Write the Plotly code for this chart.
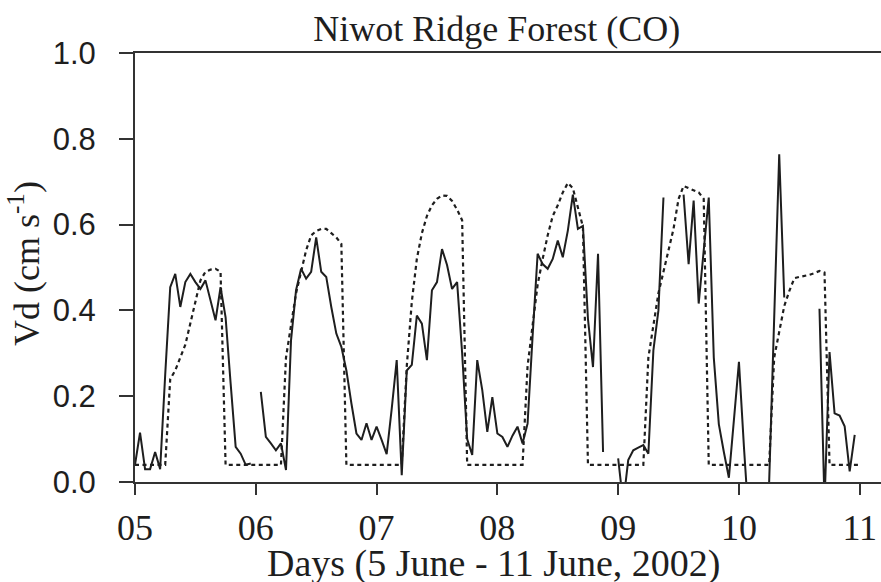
import plotly.graph_objects as go

# Hourly time axis (hours since 00:00 on 5 June 2002)
obs_hours = list(range(144))
model_hours = list(range(145))

# Observed deposition velocity (cm/s); None = missing data
obs_vd = [
    # 05
    0.04, 0.115, 0.03, 0.03, 0.07, 0.03, 0.25, 0.454, 0.485, 0.408, 0.466, 0.485,
    0.466, 0.45, 0.47, 0.423, 0.377, 0.454, 0.384, 0.23, 0.082, 0.066, 0.04, 0.043,
    # 06
    None, 0.21, 0.105, 0.09, 0.074, 0.09, 0.028, 0.33, 0.447, 0.497, 0.474, 0.49,
    0.57, 0.49, 0.478, 0.408, 0.346, 0.315, 0.26, 0.183, 0.113, 0.098, 0.137, 0.098,
    # 07
    0.129, 0.098, 0.065, 0.17, 0.284, 0.016, 0.26, 0.273, 0.388, 0.369, 0.284, 0.447,
    0.466, 0.543, 0.506, 0.45, 0.466, 0.30, 0.10, 0.063, 0.284, 0.214, 0.117, 0.198,
    # 08
    0.113, 0.105, 0.082, 0.108, 0.129, 0.09, 0.136, 0.34, 0.532, 0.508, 0.497, 0.52,
    0.563, 0.524, 0.586, 0.67, 0.59, 0.597, 0.38, 0.268, 0.532, 0.07, None, None,
    # 09
    0.055, -0.05, 0.051, 0.074, 0.08, 0.086, 0.066, 0.307, 0.40, 0.663, None, None,
    None, 0.67, 0.508, 0.656, 0.416, 0.54, 0.663, 0.29, 0.135, 0.07, 0.01, 0.145,
    # 10
    0.28, 0.08, -0.1, None, None, None, 0.0, 0.38, 0.764, 0.43, None, None,
    None, None, None, None, 0.404, -0.05, 0.303, 0.16, 0.155, 0.13, 0.025, 0.11,
]

# Modelled deposition velocity (cm/s)
model_vd = [
    # 05
    0.04, 0.04, 0.04, 0.04, 0.04, 0.04, 0.04, 0.24, 0.26, 0.29, 0.32, 0.37,
    0.42, 0.47, 0.49, 0.495, 0.497, 0.49, 0.04, 0.04, 0.04, 0.04, 0.04, 0.04,
    # 06
    0.04, 0.04, 0.04, 0.04, 0.04, 0.04, 0.29, 0.37, 0.44, 0.49, 0.54, 0.575,
    0.585, 0.59, 0.59, 0.58, 0.57, 0.555, 0.04, 0.04, 0.04, 0.04, 0.04, 0.04,
    # 07
    0.04, 0.04, 0.04, 0.04, 0.04, 0.04, 0.27, 0.42, 0.52, 0.58, 0.62, 0.645,
    0.66, 0.668, 0.667, 0.655, 0.635, 0.61, 0.04, 0.04, 0.04, 0.04, 0.04, 0.04,
    # 08
    0.04, 0.04, 0.04, 0.04, 0.04, 0.04, 0.27, 0.37, 0.46, 0.52, 0.575, 0.62,
    0.645, 0.675, 0.697, 0.685, 0.64, 0.595, 0.04, 0.04, 0.04, 0.04, 0.04, 0.04,
    # 09
    0.04, 0.04, 0.04, 0.04, 0.04, 0.04, 0.29, 0.37, 0.44, 0.49, 0.54, 0.59,
    0.66, 0.69, 0.685, 0.68, 0.675, 0.66, 0.04, 0.04, 0.04, 0.04, 0.04, 0.04,
    # 10
    0.04, 0.04, 0.04, 0.04, 0.04, 0.04, 0.04, 0.29, 0.35, 0.41, 0.445, 0.475,
    0.478, 0.48, 0.483, 0.487, 0.492, 0.488, 0.04, 0.04, 0.04, 0.04, 0.04, 0.04,
    # 11
    0.04,
]

day_ticks = [5, 6, 7, 8, 9, 10, 11]
day_labels = ["05", "06", "07", "08", "09", "10", "11"]
vd_ticks = [0.0, 0.2, 0.4, 0.6, 0.8, 1.0]
vd_labels = ["0.0", "0.2", "0.4", "0.6", "0.8", "1.0"]

obs_x = [5 + h / 24 for h in obs_hours]
model_x = [5 + h / 24 for h in model_hours]

INK = "#1e1e1e"
SERIF = "Liberation Serif, Times New Roman, serif"
SANS = "Liberation Sans, Arial, Helvetica, sans-serif"

fig = go.Figure()
fig.add_trace(go.Scatter(
    x=model_x, y=model_vd, mode="lines", name="Model",
    line=dict(color=INK, width=2.2, dash="4px,3.5px"),
    connectgaps=False, showlegend=False,
))
fig.add_trace(go.Scatter(
    x=obs_x, y=obs_vd, mode="lines", name="Observed",
    line=dict(color=INK, width=2),
    connectgaps=False, showlegend=False,
))

fig.update_layout(
    width=881, height=582,
    margin=dict(l=135, r=0, t=53, b=100),
    paper_bgcolor="white", plot_bgcolor="white",
    title=dict(
        text="Niwot Ridge Forest (CO)",
        font=dict(family=SERIF, size=36, color=INK),
        xref="paper", x=0.485, xanchor="center",
        yref="container", y=1 - 28 / 582, yanchor="middle",
    ),
)
fig.update_xaxes(
    range=[5, 11.176], tickvals=day_ticks, ticktext=day_labels,
    ticks="outside", ticklen=11, tickwidth=2, tickcolor="#333",
    showline=True, linewidth=2, linecolor="#333", mirror=True,
    showgrid=False, zeroline=False,
    tickfont=dict(family=SERIF, size=36, color=INK),
    ticklabelstandoff=2,
)
fig.update_yaxes(
    range=[0, 1], tickvals=vd_ticks, ticktext=vd_labels,
    ticks="outside", ticklen=14, tickwidth=2, tickcolor="#333",
    showline=True, linewidth=2, linecolor="#333", mirror=False,
    showgrid=False, zeroline=False,
    tickfont=dict(family=SANS, size=31, color=INK),
    ticklabelstandoff=17,
)
fig.add_annotation(
    text="Days (5 June - 11 June, 2002)",
    xref="paper", yref="paper", x=0.48, y=-0.19,
    xanchor="center", yanchor="middle", showarrow=False,
    font=dict(family=SERIF, size=38, color=INK),
)
fig.add_annotation(
    text="Vd (cm s<sup>-1</sup>)",
    xref="paper", yref="paper", x=-0.149, y=0.51,
    xanchor="center", yanchor="middle", textangle=-90, showarrow=False,
    font=dict(family=SERIF, size=36, color=INK),
)

fig.write_html(
    "out.html",
    config={"displayModeBar": False},
    post_script="document.body.style.margin='0';document.body.style.overflow='hidden';",
)
